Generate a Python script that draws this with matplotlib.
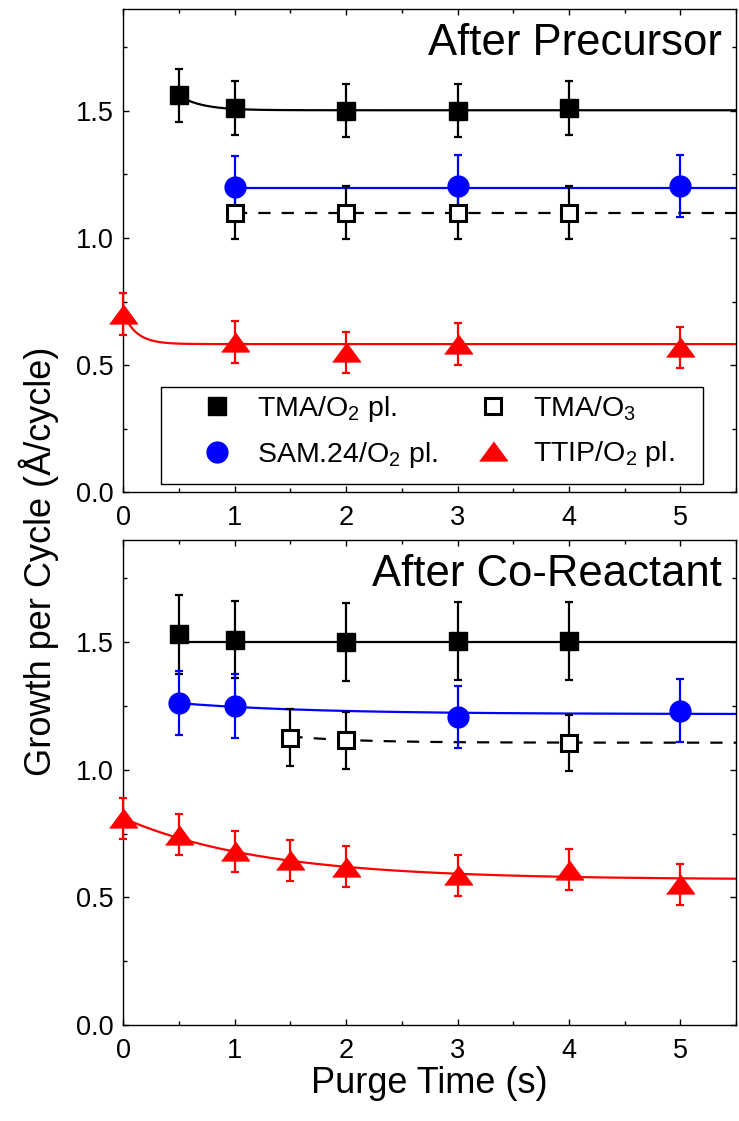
import numpy as np
import matplotlib
matplotlib.use("Agg")
import matplotlib.pyplot as plt
from matplotlib.lines import Line2D
from matplotlib.patches import Rectangle

plt.rcParams['font.family'] = ['Liberation Sans', 'DejaVu Sans']
plt.rcParams['mathtext.fontset'] = 'custom'
plt.rcParams['mathtext.rm'] = 'Liberation Sans'
plt.rcParams['font.size'] = 19.5

# ---- data: after precursor purge (top) ----
t_pre_tma = [0.5, 1, 2, 3, 4]
gpc_pre_tma = [1.56, 1.51, 1.50, 1.50, 1.51]
err_pre_tma = [0.105, 0.105, 0.105, 0.105, 0.105]

t_pre_o3 = [1, 2, 3, 4]
gpc_pre_o3 = [1.10, 1.10, 1.10, 1.10]
err_pre_o3 = [0.105, 0.105, 0.105, 0.105]

t_pre_sam = [1, 3, 5]
gpc_pre_sam = [1.20, 1.203, 1.205]
err_pre_sam = [0.122, 0.122, 0.122]

t_pre_ttip = [0, 1, 2, 3, 5]
gpc_pre_ttip = [0.70, 0.59, 0.55, 0.584, 0.57]
err_pre_ttip = [0.082, 0.082, 0.082, 0.082, 0.082]

# ---- data: after co-reactant purge (bottom) ----
t_co_tma = [0.5, 1, 2, 3, 4]
gpc_co_tma = [1.53, 1.51, 1.50, 1.505, 1.505]
err_co_tma = [0.155, 0.152, 0.152, 0.152, 0.152]

t_co_o3 = [1.5, 2, 4]
gpc_co_o3 = [1.126, 1.115, 1.105]
err_co_o3 = [0.113, 0.113, 0.11]

t_co_sam = [0.5, 1, 3, 5]
gpc_co_sam = [1.26, 1.25, 1.207, 1.232]
err_co_sam = [0.125, 0.125, 0.122, 0.125]

t_co_ttip = [0, 0.5, 1, 1.5, 2, 3, 4, 5]
gpc_co_ttip = [0.81, 0.745, 0.68, 0.645, 0.62, 0.587, 0.608, 0.552]
err_co_ttip = [0.08, 0.08, 0.08, 0.08, 0.08, 0.08, 0.08, 0.08]

# exponential fit parameters: (t_start, saturation, amplitude, tau)
fit_pre = {'tma': (0.5, 1.502, 0.65, 0.206), 'o3': (1.0, 1.097, 0.0, 1.0),
           'sam': (1.0, 1.198, 0.0, 1.0), 'ttip': (0.0, 0.583, 0.12, 0.12)}
fit_co = {'tma': (0.5, 1.50, 0.0, 1.0), 'o3': (1.5, 1.106, 0.3, 0.6),
          'sam': (0.5, 1.218, 0.065, 1.2), 'ttip': (0.0, 0.57, 0.24, 1.27)}

fig = plt.figure(figsize=(7.39, 11.21), dpi=100)
ax1 = fig.add_axes([0.1669, 0.5607, 0.8291, 0.4313])
ax2 = fig.add_axes([0.1669, 0.0856, 0.8291, 0.4327])

tri = [(-1, -0.68), (1, -0.68), (0, 0.68)]
styles = {
    'tma': dict(color='black', marker='s', ms=13, mfc='black', mec='black'),
    'o3': dict(color='black', marker='s', ms=11, mfc='white', mec='black', mew=2.2),
    'sam': dict(color='blue', marker='o', ms=15, mfc='blue', mec='blue'),
    'ttip': dict(color='red', marker=tri, ms=20, mfc='red', mec='red'),
}


def fit_curve(p):
    t0, y_inf, amp, tau = p
    tt = np.linspace(t0, 5.5, 300)
    return tt, y_inf + amp * np.exp(-tt / tau)


def draw(ax, series, fits):
    for key, (t, g, e) in series.items():
        st = styles[key]
        tt, yy = fit_curve(fits[key])
        ls = '--' if key == 'o3' else '-'
        line, = ax.plot(tt, yy, color=st['color'], lw=1.6, ls=ls, zorder=2)
        if ls == '--':
            line.set_dashes((5.5, 5))
        ax.errorbar(t, g, yerr=e, fmt='none', ecolor=st['color'], elinewidth=1.6,
                    capsize=3, capthick=1.6, zorder=3, clip_on=False)
        ax.plot(t, g, ls='none', marker=st['marker'], ms=st['ms'], mfc=st['mfc'],
                mec=st['mec'], mew=st.get('mew', 1), zorder=4, clip_on=False)


draw(ax1, {'tma': (t_pre_tma, gpc_pre_tma, err_pre_tma),
           'o3': (t_pre_o3, gpc_pre_o3, err_pre_o3),
           'sam': (t_pre_sam, gpc_pre_sam, err_pre_sam),
           'ttip': (t_pre_ttip, gpc_pre_ttip, err_pre_ttip)}, fit_pre)
draw(ax2, {'tma': (t_co_tma, gpc_co_tma, err_co_tma),
           'o3': (t_co_o3, gpc_co_o3, err_co_o3),
           'sam': (t_co_sam, gpc_co_sam, err_co_sam),
           'ttip': (t_co_ttip, gpc_co_ttip, err_co_ttip)}, fit_co)

for ax in (ax1, ax2):
    ax.set_xlim(0, 5.5)
    ax.set_ylim(0, 1.9)
    ax.set_xticks([0, 1, 2, 3, 4, 5])
    ax.set_xticks(np.arange(0, 5.6, 0.5), minor=True)
    ax.set_yticks([0.0, 0.5, 1.0, 1.5])
    ax.set_yticks(np.arange(0, 1.9, 0.25), minor=True)
    ax.yaxis.set_major_formatter(matplotlib.ticker.FormatStrFormatter('%.1f'))
    ax.tick_params(which='both', direction='in', top=True, right=True, width=1)
    ax.tick_params(which='major', length=4, labelsize=19.5)
    ax.tick_params(axis='x', which='major', pad=9)
    ax.tick_params(axis='y', which='major', pad=7)
    ax.tick_params(which='minor', length=3)
    for sp in ax.spines.values():
        sp.set_linewidth(1)

ax1.text(0.977, 0.905, 'After Precursor', transform=ax1.transAxes,
         ha='right', va='baseline', fontsize=31.4)
ax2.text(0.977, 0.905, 'After Co-Reactant', transform=ax2.transAxes,
         ha='right', va='baseline', fontsize=31.4)

ax2.set_xlabel('Purge Time (s)', fontsize=26, labelpad=2)
fig.text(0.052, 0.4996, 'Growth per Cycle (Å/cycle)', rotation=90,
         ha='center', va='center', fontsize=26)

# legend: frame drawn as a box, entries placed inside it
ax1.add_patch(Rectangle((0.0615, 0.0176), 0.8845, 0.2004, transform=ax1.transAxes,
                        facecolor='white', edgecolor='black', lw=1, zorder=5))
labels = [r'TMA/O$_\mathregular{2}$ pl.', r'SAM.24/O$_\mathregular{2}$ pl.',
          r'TMA/O$_\mathregular{3}$', r'TTIP/O$_\mathregular{2}$ pl.']
handles = []
for key in ['tma', 'sam', 'o3', 'ttip']:
    st = styles[key]
    handles.append(Line2D([], [], ls='none', marker=st['marker'], ms=st['ms'],
                          mfc=st['mfc'], mec=st['mec'], mew=st.get('mew', 1)))
leg = ax1.legend(handles, labels, ncol=2, loc='center left',
                 bbox_to_anchor=(0.107, 0.125), fontsize=20.5, frameon=False,
                 borderpad=0, borderaxespad=0, handlelength=2.0,
                 handletextpad=0.4, columnspacing=0.92, labelspacing=0.55)
leg.set_zorder(6)

fig.savefig('out.png', dpi=100)
